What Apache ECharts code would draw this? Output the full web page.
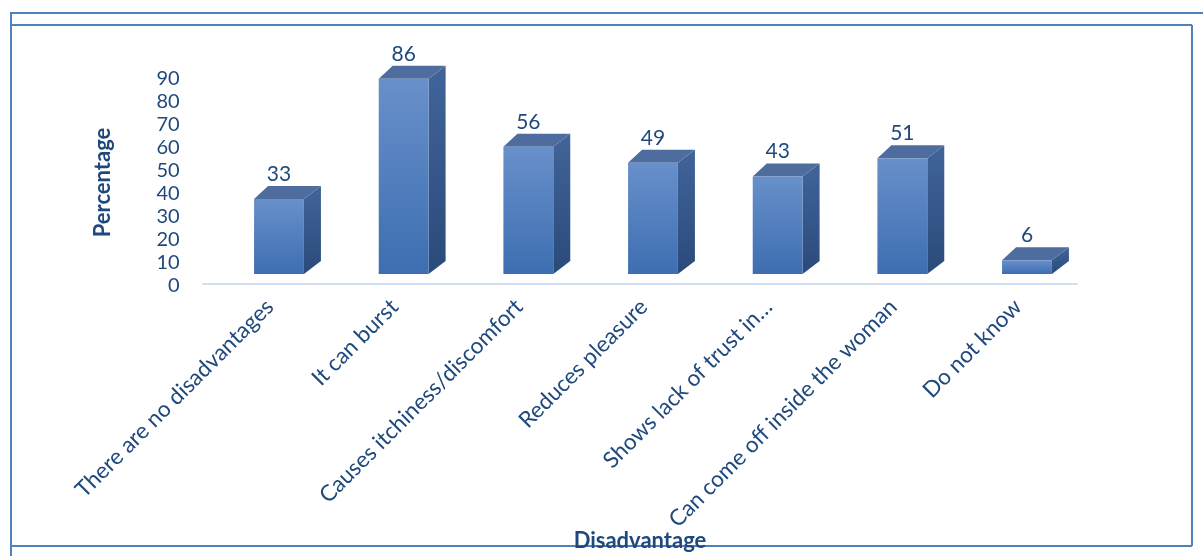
<!DOCTYPE html>
<html>
<head>
<meta charset="utf-8">
<script src="https://cdn.jsdelivr.net/npm/echarts@6/dist/echarts.min.js"></script>
<style>
html,body{margin:0;padding:0;background:#fff;}
#chart{width:1203px;height:556px;}
</style>
</head>
<body>
<div id="chart"></div>
<script>
const categories = [
  'There are no disadvantages',
  'It can burst',
  'Causes itchiness/discomfort',
  'Reduces pleasure',
  'Shows lack of trust in…',
  'Can come off inside the woman',
  'Do not know'
];
const values = [33, 86, 56, 49, 43, 51, 6];
const yTicks = [0, 10, 20, 30, 40, 50, 60, 70, 80, 90];

const TEXT = '#1f497d';
const FONT = 'Lato';
const DX = 17, DY = -13;

const chart = echarts.init(document.getElementById('chart'), null, {renderer: 'canvas'});

function renderItem(params, api) {
  const xi = api.value(0), v = api.value(1);
  const base = api.coord([xi, 0]);
  const top = api.coord([xi, v]);
  const bw = api.size([1, 0])[0] * 0.4;
  const l = base[0] - bw / 2, r = base[0] + bw / 2;
  const b = base[1], t = top[1];
  return {
    type: 'group',
    children: [
      {
        type: 'polygon',
        shape: {points: [[r, b], [r + DX, b + DY], [r + DX, t + DY], [r, t]]},
        style: {fill: new echarts.graphic.LinearGradient(0, 0, 0, 1, [
          {offset: 0, color: '#41649a'}, {offset: 1, color: '#2a4a7a'}])}
      },
      {
        type: 'polygon',
        shape: {points: [[l, t], [l + DX - 3, t + DY], [r + DX, t + DY], [r, t]]},
        style: {fill: '#4e6d9e'}
      },
      {
        type: 'rect',
        shape: {x: l, y: t, width: r - l, height: b - t},
        style: {fill: new echarts.graphic.LinearGradient(0, 0, 0, 1, [
          {offset: 0, color: '#6890ca'}, {offset: 1, color: '#3d6eb1'}])}
      },
      {
        type: 'text',
        style: {
          x: base[0], y: t - 25, text: String(v),
          fill: TEXT, font: '21px ' + FONT,
          align: 'center', verticalAlign: 'middle'
        }
      }
    ]
  };
}

const BORDER = '#4f81bd';
const option = {
  backgroundColor: '#fff',
  animation: false,
  grid: [
    {left: 216.67, right: 113.67, top: 79, bottom: 270},
    {left: 203, right: 126, top: 79, bottom: 272}
  ],
  xAxis: [
    {
      type: 'category', gridIndex: 0, data: categories,
      axisLine: {show: false}, axisTick: {show: false},
      axisLabel: {
        rotate: 45, interval: 0, margin: 8, padding: [0, 13, 0, 0],
        color: TEXT, fontFamily: FONT, fontSize: 22.5
      }
    },
    {
      type: 'value', gridIndex: 1, min: 0, max: 1,
      axisLine: {show: true, lineStyle: {color: '#d3e0f1', width: 2}},
      axisTick: {show: false}, axisLabel: {show: false}, splitLine: {show: false},
      name: 'Disadvantage', nameLocation: 'middle', nameGap: 246,
      nameTextStyle: {color: TEXT, fontFamily: FONT, fontSize: 22, fontWeight: 'bold'}
    }
  ],
  yAxis: [
    {
      type: 'value', gridIndex: 0, min: 0, max: 90, interval: 10,
      axisLine: {show: false}, axisTick: {show: false}, splitLine: {show: false},
      axisLabel: {
        margin: 37, color: TEXT, fontFamily: FONT, fontSize: 20,
        formatter: function (v) { return yTicks.indexOf(v) >= 0 ? String(v) : ''; }
      },
      name: 'Percentage', nameLocation: 'middle', nameRotate: 90, nameGap: 103,
      nameTextStyle: {color: TEXT, fontFamily: FONT, fontSize: 22, fontWeight: 'bold'}
    },
    {
      type: 'value', gridIndex: 0, min: -5.29, max: 85.9, show: false
    },
    {
      type: 'value', gridIndex: 1, min: 0, max: 1, show: false
    }
  ],
  graphic: [
    {type: 'line', z: -10, shape: {x1: 11, y1: 13, x2: 1203, y2: 13}, style: {stroke: BORDER, lineWidth: 2}},
    {type: 'line', z: -10, shape: {x1: 11, y1: 12, x2: 11, y2: 556}, style: {stroke: BORDER, lineWidth: 2}},
    {type: 'line', z: -10, shape: {x1: 11, y1: 25, x2: 1192, y2: 25}, style: {stroke: BORDER, lineWidth: 2}},
    {type: 'line', z: -10, shape: {x1: 1192, y1: 25, x2: 1192, y2: 546}, style: {stroke: BORDER, lineWidth: 2}},
    {type: 'line', z: -10, shape: {x1: 11, y1: 546, x2: 1192, y2: 546}, style: {stroke: BORDER, lineWidth: 2}}
  ],
  series: [
    {
      type: 'custom', xAxisIndex: 0, yAxisIndex: 1,
      clip: false,
      renderItem: renderItem,
      data: values.map((v, i) => [i, v])
    }
  ]
};
chart.setOption(option);
</script>
</body>
</html>
